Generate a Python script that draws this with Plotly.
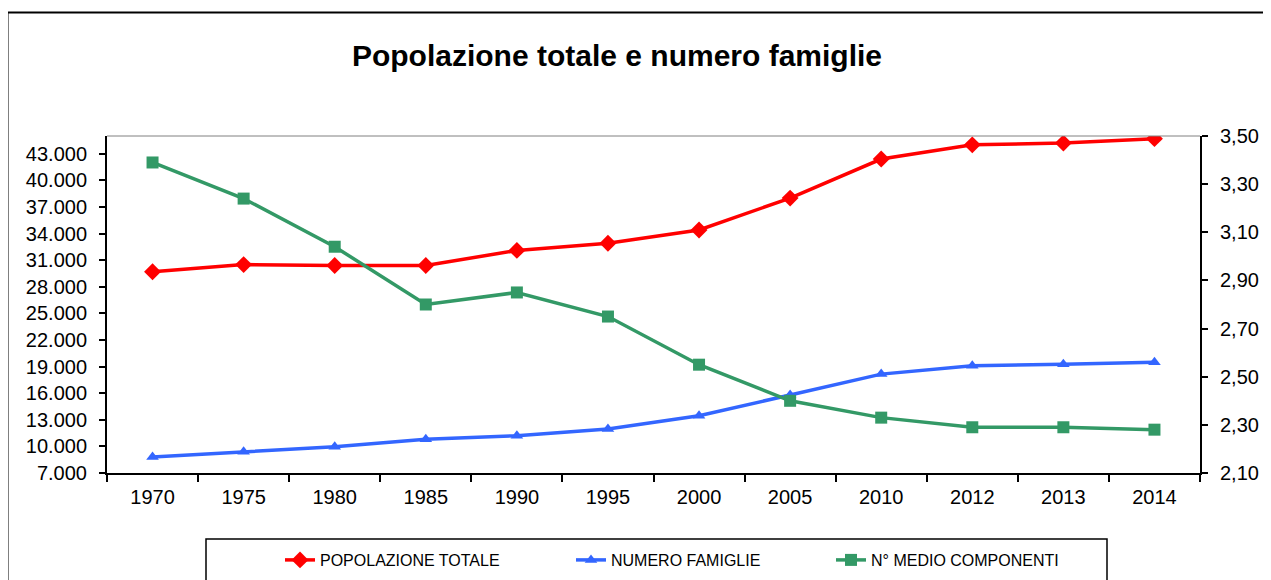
import plotly.graph_objects as go

years = ["1970", "1975", "1980", "1985", "1990", "1995", "2000", "2005", "2010", "2012", "2013", "2014"]
popolazione = [29700, 30500, 30400, 30400, 32100, 32900, 34400, 38000, 42400, 44000, 44200, 44700]
famiglie = [8800, 9400, 9950, 10800, 11200, 11950, 13450, 15800, 18150, 19100, 19250, 19500]
componenti = [3.39, 3.24, 3.04, 2.80, 2.85, 2.75, 2.55, 2.40, 2.33, 2.29, 2.29, 2.28]

names = ["POPOLAZIONE TOTALE", "NUMERO FAMIGLIE", "N° MEDIO COMPONENTI"]
colors = ["#FF0000", "#3366FF", "#339966"]

# page has an 8px body margin: work in screen coordinates and shift
OFF = 8
W, H = 1271 - OFF, 580 - OFF
# plot area in screen coordinates: x 107..1200, y 136..473
L, R, T, B = 107 - OFF, 1271 - 1200, 136 - OFF, 580 - 473
pw, ph = W - L - R, H - T - B

def px(x):
    return (x - OFF - L) / pw

def py(y):
    return (H - B - (y - OFF)) / ph

def cx(x):
    return (x - OFF) / W

def cy(y):
    return 1 - (y - OFF) / H

fig = go.Figure()
fig.add_trace(go.Scatter(x=years, y=popolazione, name=names[0], mode="lines+markers",
                         line=dict(color=colors[0], width=3.5),
                         marker=dict(symbol="diamond", size=13, color=colors[0]),
                         legend="legend", showlegend=True))
fig.add_trace(go.Scatter(x=years, y=famiglie, name=names[1], mode="lines+markers",
                         line=dict(color=colors[1], width=3.5),
                         marker=dict(symbol="triangle-up", size=11, color=colors[1]),
                         legend="legend2", showlegend=True))
fig.add_trace(go.Scatter(x=years, y=componenti, name=names[2], mode="lines+markers",
                         line=dict(color=colors[2], width=3.5),
                         marker=dict(symbol="square", size=12, color=colors[2]),
                         yaxis="y2", legend="legend3", showlegend=True))

font = "Liberation Sans, Arial, sans-serif"
leg_common = dict(orientation="h", xref="container", yref="container", yanchor="middle",
                  xanchor="left", bgcolor="rgba(0,0,0,0)", borderwidth=0,
                  font=dict(family=font, size=16, color="#000000"))
tickfont = dict(family=font, size=20, color="#000000")

fig.update_layout(
    width=W, height=H,
    margin=dict(l=L, r=R, t=T, b=B, autoexpand=False),
    paper_bgcolor="white", plot_bgcolor="white",
    separators=",.",
    showlegend=True,
    title=dict(text="<b>Popolazione totale e numero famiglie</b>", x=cx(617), y=cy(55),
               xref="container", yref="container", xanchor="center", yanchor="middle",
               font=dict(family=font, size=30, color="#000000")),
    xaxis=dict(type="category", showgrid=False, showline=True, linecolor="black", linewidth=2,
               ticks="outside", ticklen=7, tickcolor="black", tickwidth=1.5,
               tickson="boundaries", range=[-0.5, 11.5], ticklabelstandoff=5,
               tickfont=tickfont),
    yaxis=dict(range=[7000, 45000], tick0=7000, dtick=3000, tickformat=",.0f",
               showgrid=False, showline=True, linecolor="black", linewidth=2,
               ticks="outside", ticklen=6, tickcolor="black", tickwidth=1.5, zeroline=False,
               ticklabelstandoff=8, tickfont=tickfont),
    yaxis2=dict(range=[2.1, 3.5], tick0=2.1, dtick=0.2, tickformat=".2f", overlaying="y",
                side="right", showgrid=False, showline=True, linecolor="black", linewidth=2,
                ticks="outside", ticklen=6, tickcolor="black", tickwidth=1.5, zeroline=False,
                ticklabelstandoff=8, tickfont=tickfont),
    legend=dict(x=cx(280), y=cy(560), **leg_common),
    legend2=dict(x=cx(571), y=cy(560), **leg_common),
    legend3=dict(x=cx(831), y=cy(560), **leg_common),
    shapes=[
        dict(type="line", xref="paper", yref="paper", x0=0, x1=1, y0=1, y1=1,
             line=dict(color="#808080", width=1)),
        dict(type="rect", xref="paper", yref="paper", x0=px(206), x1=px(1107), y0=py(539), y1=py(590),
             line=dict(color="black", width=1.5)),
        dict(type="line", xref="paper", yref="paper", x0=px(7.5), x1=px(7.5), y0=py(590), y1=py(12.5),
             line=dict(color="black", width=2)),
        dict(type="line", xref="paper", yref="paper", x0=px(7.5), x1=px(1271), y0=py(12.5), y1=py(12.5),
             line=dict(color="black", width=2)),
    ],
)

fig.write_html("out.html", config={"displayModeBar": False},
               post_script="document.body.style.overflow='hidden';")
